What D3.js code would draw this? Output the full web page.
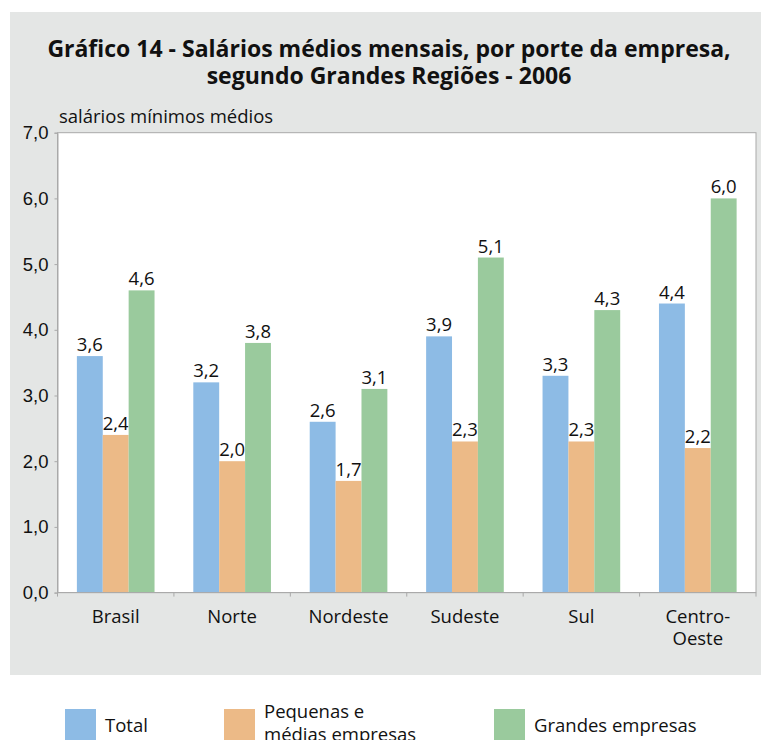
<!DOCTYPE html>
<html>
<head>
<meta charset="utf-8">
<script src="https://cdn.jsdelivr.net/npm/d3@7"></script>
<style>
  body { margin: 0; background: #fff; }
  svg { display: block; font-family: "Open Sans", sans-serif; }
</style>
</head>
<body>
<svg id="chart"></svg>
<script>
const regions = ['Brasil', 'Norte', 'Nordeste', 'Sudeste', 'Sul', 'Centro-Oeste'];
const regionLines = [['Brasil'], ['Norte'], ['Nordeste'], ['Sudeste'], ['Sul'], ['Centro-', 'Oeste']];
const seriesNames = ['Total', 'Pequenas e médias empresas', 'Grandes empresas'];
const total = [3.6, 3.2, 2.6, 3.9, 3.3, 4.4];
const pequenas = [2.4, 2.0, 1.7, 2.3, 2.3, 2.2];
const grandes = [4.6, 3.8, 3.1, 5.1, 4.3, 6.0];
const yTicks = [0, 1, 2, 3, 4, 5, 6, 7];

const colors = ['#8dbbe5', '#ecba87', '#9aca9d'];
const series = [total, pequenas, grandes];

const global_width = 761, global_height = 740;
const margin = {top: 132.7, left: 57.5, right: 5, bottom: 147};
const width = global_width - margin.left - margin.right,
  height = 592.6 - margin.top;
const fs = 18.5;

const svg = d3.select('#chart')
  .attr('width', global_width)
  .attr('height', global_height);

// grey panel
svg.append('rect')
  .attr('x', 10).attr('y', 12)
  .attr('width', global_width - 10).attr('height', 663)
  .attr('fill', '#e4e6e5');

// title
const title = svg.append('text')
  .attr('text-anchor', 'middle')
  .attr('font-weight', 'bold')
  .attr('font-size', 23)
  .attr('fill', '#111');
title.append('tspan').attr('x', 389).attr('y', 57)
  .text('Gráfico 14 - Salários médios mensais, por porte da empresa,');
title.append('tspan').attr('x', 389).attr('y', 84)
  .text('segundo Grandes Regiões - 2006');

// y axis label
svg.append('text')
  .attr('x', 59).attr('y', 123)
  .attr('font-size', fs)
  .attr('fill', '#111')
  .text('salários mínimos médios');

const plot = svg.append('g')
  .attr('transform', `translate(${margin.left},${margin.top})`);

plot.append('rect')
  .attr('width', width).attr('height', height)
  .attr('fill', '#fff')
  .attr('stroke', '#a9a9a9');

const xScale = d3.scaleBand().domain(regions).range([0, width]).paddingInner(0.333).paddingOuter(0.1665);
const xInner = d3.scaleBand().domain(d3.range(3)).range([0, xScale.bandwidth()]);
const yScale = d3.scaleLinear().domain([0, 7]).range([height, 0]);

// bars
series.forEach((vals, j) => {
  const g = plot.append('g');
  g.selectAll('rect')
    .data(vals)
    .enter()
    .append('rect')
    .attr('x', (d, i) => xScale(regions[i]) + xInner(j))
    .attr('y', d => yScale(d))
    .attr('width', xInner.bandwidth())
    .attr('height', d => height - yScale(d))
    .attr('fill', colors[j]);
  g.selectAll('text')
    .data(vals)
    .enter()
    .append('text')
    .attr('x', (d, i) => xScale(regions[i]) + xInner(j) + xInner.bandwidth() / 2)
    .attr('y', d => yScale(d) - 5)
    .attr('text-anchor', 'middle')
    .attr('font-size', fs)
    .attr('fill', '#111')
    .text(d => d.toFixed(1).replace('.', ','));
});

// y axis
const yAxis = d3.axisLeft(yScale)
  .tickValues(yTicks)
  .tickSize(3)
  .tickPadding(6)
  .tickFormat(d => d.toFixed(1).replace('.', ','));
const yG = plot.append('g').call(yAxis);
yG.select('.domain').attr('stroke', '#a9a9a9');
yG.selectAll('.tick line').attr('stroke', '#a9a9a9');
yG.selectAll('.tick text').attr('font-size', fs).attr('fill', '#111').attr('font-family', null);

// x axis: ticks at category boundaries
const bounds = d3.range(regions.length + 1).map(i => i * width / regions.length);
const xG = plot.append('g').attr('transform', `translate(0,${height})`);
xG.append('line').attr('x1', 0).attr('x2', width).attr('stroke', '#a9a9a9');
xG.selectAll('.tk')
  .data(bounds)
  .enter()
  .append('line')
  .attr('x1', d => d).attr('x2', d => d)
  .attr('y1', 0).attr('y2', 4)
  .attr('stroke', '#a9a9a9');

xG.selectAll('.cat')
  .data(regions)
  .enter()
  .append('text')
  .attr('text-anchor', 'middle')
  .attr('font-size', fs)
  .attr('fill', '#111')
  .each(function (d, i) {
    const t = d3.select(this);
    regionLines[i].forEach((ln, k) => {
      t.append('tspan')
        .attr('x', xScale(d) + xScale.bandwidth() / 2)
        .attr('y', 30 + k * 22)
        .text(ln);
    });
  });

// legend
const legendX = [65, 224, 494];
const legendLines = [['Pequenas e', 'médias empresas']];
const legend = svg.append('g');
seriesNames.forEach((name, j) => {
  legend.append('rect')
    .attr('x', legendX[j]).attr('y', 709)
    .attr('width', 31).attr('height', 31)
    .attr('fill', colors[j]);
  const t = legend.append('text')
    .attr('font-size', fs)
    .attr('fill', '#111');
  const lines = j === 1 ? legendLines[0] : [name];
  lines.forEach((ln, k) => {
    t.append('tspan')
      .attr('x', legendX[j] + 40)
      .attr('y', lines.length === 1 ? 732 : 718 + k * 23)
      .text(ln);
  });
});
</script>
</body>
</html>
